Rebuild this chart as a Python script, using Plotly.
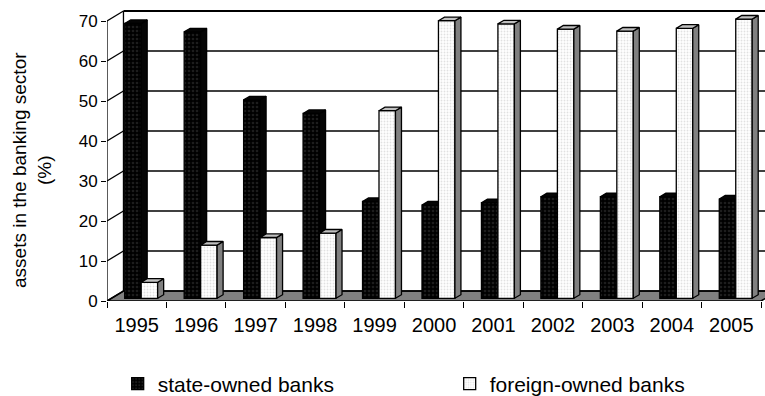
import plotly.graph_objects as go

# ---- data ----
years = ["1995", "1996", "1997", "1998", "1999", "2000",
         "2001", "2002", "2003", "2004", "2005"]
state_owned = [68.7, 66.6, 49.6, 46.2, 24.2, 23.3, 23.9, 25.4, 25.4, 25.4, 24.8]
foreign_owned = [4.0, 13.3, 15.2, 16.3, 46.9, 69.4, 68.6, 67.3, 66.8, 67.5, 69.8]
y_ticks = [0, 10, 20, 30, 40, 50, 60, 70]
series_names = ["state-owned banks", "foreign-owned banks"]

# ---- 3-D look parameters (style) ----
DX, DY = 0.277, 2.5          # full floor depth offset (category units, value units)
ZF = 0.27                    # depth fraction of bar front faces
BAR_W = 0.277                # bar width (category units)
BDX, BDY = 0.101, 0.9        # bar depth offset
SHIFT, BASE = ZF * DX, ZF * DY
XR = [-0.5, 10.567]
YR = [0, 73]
FONT = "Liberation Sans, Arial, sans-serif"
LW = 1.3

xpos = list(range(len(years)))


def faces(values, offset):
    side_x, side_y, top_x, top_y = [], [], [], []
    for i, v in zip(xpos, values):
        x0 = i + SHIFT + offset
        x1 = x0 + BAR_W
        yb, yt = BASE, BASE + v
        side_x += [x1, x1 + BDX, x1 + BDX, x1, x1, None]
        side_y += [yb, yb + BDY, yt + BDY, yt, yb, None]
        top_x += [x0, x1, x1 + BDX, x0 + BDX, x0, None]
        top_y += [yt, yt, yt + BDY, yt + BDY, yt, None]
    return side_x, side_y, top_x, top_y


fig = go.Figure()

# state-owned (base subplot)
fig.add_trace(go.Bar(
    x=[i + SHIFT for i in xpos], y=state_owned, base=BASE, width=BAR_W, offset=-BAR_W,
    name=series_names[0], xaxis="x", yaxis="y",
    marker=dict(color="#000000", line=dict(color="#000000", width=LW),
                pattern=dict(shape=".", fgcolor="#3a3a3a", bgcolor="#000000",
                             size=4, solidity=0.35, fillmode="overlay")),
))
sx, sy, tx, ty = faces(state_owned, -BAR_W)
fig.add_trace(go.Scatter(x=sx, y=sy, fill="toself", fillcolor="#050505", mode="lines",
                         line=dict(color="#000000", width=LW), showlegend=False,
                         hoverinfo="skip", xaxis="x", yaxis="y"))
fig.add_trace(go.Scatter(x=tx, y=ty, fill="toself", fillcolor="#050505", mode="lines",
                         line=dict(color="#000000", width=LW), showlegend=False,
                         hoverinfo="skip", xaxis="x", yaxis="y"))

# foreign-owned (overlay subplot, drawn above)
fig.add_trace(go.Bar(
    x=[i + SHIFT for i in xpos], y=foreign_owned, base=BASE, width=BAR_W, offset=0,
    name=series_names[1], xaxis="x2", yaxis="y2",
    marker=dict(color="#ffffff", line=dict(color="#000000", width=LW),
                pattern=dict(shape=".", fgcolor="#c4c4c4", bgcolor="#ffffff",
                             size=3, solidity=0.3, fillmode="overlay")),
))
sx, sy, tx, ty = faces(foreign_owned, 0)
fig.add_trace(go.Scatter(x=sx, y=sy, fill="toself", fillcolor="#808080", mode="lines",
                         line=dict(color="#000000", width=LW), showlegend=False,
                         hoverinfo="skip", xaxis="x2", yaxis="y2"))
fig.add_trace(go.Scatter(x=tx, y=ty, fill="toself", fillcolor="#c0c0c0", mode="lines",
                         line=dict(color="#000000", width=LW), showlegend=False,
                         hoverinfo="skip", xaxis="x2", yaxis="y2"))

# ---- walls, floor, gridlines ----
shapes = []
xl, xr_far = XR[0], XR[1] + 2
shapes.append(dict(type="path", xref="x", yref="y", layer="below",
                   path=f"M{xl},0 L{xl + 11},0 L{xl + 11 + DX},{DY} L{xl + DX},{DY} Z",
                   fillcolor="#808080", line=dict(color="#000000", width=1.6)))
for k in y_ticks:
    shapes.append(dict(type="line", xref="x", yref="y", layer="below",
                       x0=xl, y0=k, x1=xl + DX, y1=k + DY,
                       line=dict(color="#000000", width=LW)))
    shapes.append(dict(type="line", xref="x", yref="y", layer="below",
                       x0=xl + DX, y0=k + DY, x1=xr_far, y1=k + DY,
                       line=dict(color="#000000", width=LW if k < 70 else 2.2)))
shapes.append(dict(type="line", xref="x", yref="y", layer="below",
                   x0=xl + DX, y0=DY, x1=xl + DX, y1=y_ticks[-1] + DY,
                   line=dict(color="#000000", width=LW)))
shapes.append(dict(type="line", xref="x", yref="y", layer="below",
                   x0=xl, y0=0, x1=xl, y1=y_ticks[-1],
                   line=dict(color="#000000", width=LW)))

fig.update_layout(
    width=765, height=396,
    margin=dict(l=107, r=0, t=9, b=95, autoexpand=False),
    paper_bgcolor="white", plot_bgcolor="white",
    font=dict(family=FONT, color="#000000"),
    barmode="overlay",
    shapes=shapes,
    showlegend=True,
    legend=dict(orientation="h", x=-0.002, xanchor="left", y=(301 - 384) / 292,
                yanchor="middle",
                font=dict(size=21, family=FONT), entrywidth=275, entrywidthmode="pixels",
                indentation=12,
                bgcolor="rgba(0,0,0,0)", tracegroupgap=0),
    xaxis=dict(range=XR, tickmode="array", tickvals=xpos, ticktext=years,
               ticks="outside", ticklen=6, tickcolor="rgba(0,0,0,0)",
               tickfont=dict(size=20), showgrid=False, zeroline=False, showline=False,
               fixedrange=True,
               minor=dict(tickvals=[i - 0.5 for i in range(len(years) + 1)],
                          ticks="outside", ticklen=6, tickwidth=LW, tickcolor="#000000",
                          showgrid=False)),
    yaxis=dict(range=YR, tickmode="array", tickvals=y_ticks,
               ticks="outside", ticklen=5, tickwidth=LW, tickcolor="#000000",
               tickfont=dict(size=17), showgrid=False, zeroline=False, showline=False,
               fixedrange=True),
    xaxis2=dict(range=XR, overlaying="x", visible=False, fixedrange=True),
    yaxis2=dict(range=YR, overlaying="y", visible=False, fixedrange=True),
    annotations=[dict(text="assets in the banking sector<br>(%)", xref="paper", yref="paper",
                      x=(32 - 107) / 658, y=(301 - 170) / 292, xanchor="center",
                      yanchor="middle", textangle=-90, showarrow=False,
                      font=dict(size=19, family=FONT))],
)

fig.write_html("out.html")
